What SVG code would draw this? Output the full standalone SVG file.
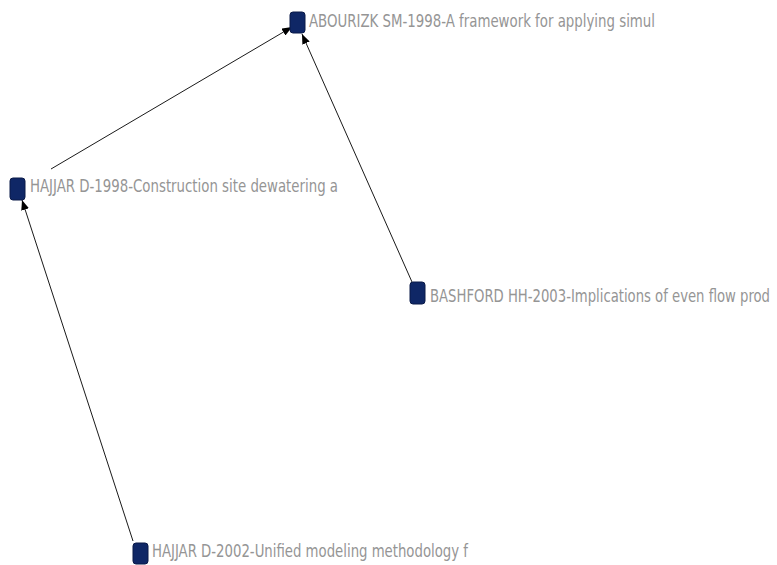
<svg xmlns="http://www.w3.org/2000/svg" width="777" height="565" viewBox="0 0 777 565">
  <defs>
    <marker id="arrow" viewBox="0 0 10 8" refX="10" refY="4" markerWidth="10" markerHeight="8" markerUnits="userSpaceOnUse" orient="auto">
      <path d="M0,0 L10,4 L0,8 Z" fill="#000"/>
    </marker>
    <style>
      .node rect { fill: #0f2766; stroke: #0a1a48; stroke-width: 1; }
      .node text { font-family: "DejaVu Sans Condensed", "Liberation Sans", sans-serif; font-size: 14px; font-weight: 300; fill: #959595; }
      .edge { stroke: #1a1a1a; stroke-width: 1; fill: none; marker-end: url(#arrow); }
    </style>
  </defs>
  <rect width="777" height="565" fill="#fff"/>

  <!-- citation links -->
  <g id="edges">
    <line class="edge" x1="51" y1="169" x2="292" y2="27"/>
    <line class="edge" x1="412" y1="282" x2="302" y2="34"/>
    <line class="edge" x1="133" y1="541" x2="22" y2="200"/>
  </g>

  <g id="n-abourizk" class="node">
    <rect x="290" y="12" width="15" height="21" rx="3"/>
    <text x="309" y="27" textLength="346" lengthAdjust="spacingAndGlyphs" transform="translate(0,27) scale(1,1.3) translate(0,-27)">ABOURIZK SM-1998-A framework for applying simul</text>
  </g>

  <g id="n-hajjar1998" class="node">
    <rect x="10" y="178" width="15" height="22" rx="3"/>
    <text x="30" y="192" textLength="308" lengthAdjust="spacingAndGlyphs" transform="translate(0,192) scale(1,1.3) translate(0,-192)">HAJJAR D-1998-Construction site dewatering a</text>
  </g>

  <g id="n-bashford" class="node">
    <rect x="410" y="282" width="15" height="22" rx="3"/>
    <text x="430" y="302" textLength="340" lengthAdjust="spacingAndGlyphs" transform="translate(0,302) scale(1,1.3) translate(0,-302)">BASHFORD HH-2003-Implications of even flow prod</text>
  </g>

  <g id="n-hajjar2002" class="node">
    <rect x="133" y="543" width="15" height="21" rx="3"/>
    <text x="152" y="557" textLength="316" lengthAdjust="spacingAndGlyphs" transform="translate(0,557) scale(1,1.3) translate(0,-557)">HAJJAR D-2002-Unified modeling methodology f</text>
  </g>
</svg>
